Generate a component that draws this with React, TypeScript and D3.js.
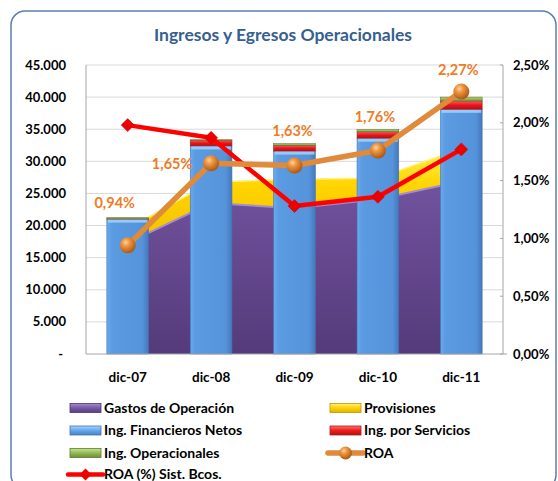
import React from 'react';
import * as d3 from 'd3';

const categories = ['dic-07', 'dic-08', 'dic-09', 'dic-10', 'dic-11'];
const gastosOperacion = [17300, 23500, 22700, 24100, 26900];
const provisiones = [2200, 3300, 4500, 3300, 5100];
const ingFinancieros = [21000, 32400, 31600, 33600, 38100];
const ingServicios = [50, 900, 900, 1000, 1300];
const ingOperacionales = [200, 60, 250, 350, 600];
const roa = [0.94, 1.65, 1.63, 1.76, 2.27];
const roaSistema = [1.98, 1.87, 1.28, 1.36, 1.77];
const leftTicks = [0, 5000, 10000, 15000, 20000, 25000, 30000, 35000, 40000, 45000];
const rightTicks = [0, 0.5, 1, 1.5, 2, 2.5];

// label nudges for the ROA data labels (dx, dy from the marker)
const roaLabelOffsets: [number, number][] = [[-13, -42], [-39, 1], [-2, -35], [-3, -34], [-3, -22]];

const W = 558;
const H = 481;
const left = 86;
const right = 503;
const top = 65;
const bottom = 354;
const font = 'Lato, "Open Sans", sans-serif';

const fmtLeft = (v: number) => (v === 0 ? '-' : d3.format(',')(v).replace(/,/g, '.'));
const fmtPct = (v: number) => v.toFixed(2).replace('.', ',') + '%';

const App: React.FC = () => {
  const x = d3.scaleBand<string>().domain(categories).range([left, right]).paddingInner(0.5).paddingOuter(0.25);
  const y = d3.scaleLinear().domain([0, 45000]).range([bottom, top]);
  const yr = d3.scaleLinear().domain([0, 2.5]).range([bottom, top]);
  const cx = (c: string) => (x(c) ?? 0) + x.bandwidth() / 2;
  const bw = x.bandwidth();

  const areaRows = categories.map((c, i) => ({ c, g: gastosOperacion[i], p: provisiones[i] }));
  const gastosArea = d3.area<typeof areaRows[0]>()
    .x(d => cx(d.c)).y0(y(0)).y1(d => y(d.g));
  const provArea = d3.area<typeof areaRows[0]>()
    .x(d => cx(d.c)).y0(d => y(d.g)).y1(d => y(d.g + d.p));

  const lineGen = d3.line<number>().x((_, i) => cx(categories[i]));
  const roaPath = lineGen.y(d => yr(d))(roa) ?? '';
  const sistPath = lineGen.y(d => yr(d))(roaSistema) ?? '';

  const stacks = categories.map((c, i) => {
    const f = ingFinancieros[i];
    const s = ingServicios[i];
    const o = ingOperacionales[i];
    return [
      { key: 'fin', y0: 0, y1: f },
      { key: 'serv', y0: f, y1: f + s },
      { key: 'oper', y0: f + s, y1: f + s + o },
    ].map(seg => ({ ...seg, c }));
  });

  const segFill: Record<string, string> = { fin: 'url(#gBlue)', serv: 'url(#gRed)', oper: 'url(#gGreen)' };
  const segStroke: Record<string, string> = { fin: '#3f74b5', serv: '#a81c1c', oper: '#5f7a30' };

  const legendItems = [
    { label: 'Gastos de Operación', kind: 'rect', fill: 'url(#gPurpleL)', stroke: '#4b3569', col: 0, row: 0 },
    { label: 'Provisiones', kind: 'rect', fill: 'url(#gYellowL)', stroke: '#b8960a', col: 1, row: 0 },
    { label: 'Ing. Financieros Netos', kind: 'rect', fill: 'url(#gBlueL)', stroke: '#3f74b5', col: 0, row: 1 },
    { label: 'Ing. por Servicios', kind: 'rect', fill: 'url(#gRedL)', stroke: '#a81c1c', col: 1, row: 1 },
    { label: 'Ing. Operacionales', kind: 'rect', fill: 'url(#gGreenL)', stroke: '#5f7a30', col: 0, row: 2 },
    { label: 'ROA', kind: 'roa', fill: '', stroke: '', col: 1, row: 2 },
    { label: 'ROA (%) Sist. Bcos.', kind: 'sist', fill: '', stroke: '', col: 0, row: 3 },
  ];
  const legendX = [70, 330];
  const legendY = [408, 430.5, 453, 474.5];

  const diamond = (px: number, py: number, r: number) =>
    `M${px},${py - r}L${px + r},${py}L${px},${py + r}L${px - r},${py}Z`;

  return (
    <svg width={W} height={H} style={{ position: 'absolute', left: 0, top: 0, background: '#fff' }} fontFamily={font}>
      <defs>
        <linearGradient id="gBlue" x1="0" x2="1" y1="0" y2="0">
          <stop offset="0" stopColor="#6aa9ec" />
          <stop offset="0.12" stopColor="#5b9be2" />
          <stop offset="0.85" stopColor="#5593da" />
          <stop offset="1" stopColor="#4678bb" />
        </linearGradient>
        <linearGradient id="gRed" x1="0" x2="0" y1="0" y2="1">
          <stop offset="0" stopColor="#ff5b5b" />
          <stop offset="0.5" stopColor="#e8161b" />
          <stop offset="1" stopColor="#b51010" />
        </linearGradient>
        <linearGradient id="gGreen" x1="0" x2="0" y1="0" y2="1">
          <stop offset="0" stopColor="#b5d77a" />
          <stop offset="1" stopColor="#76953c" />
        </linearGradient>
        <linearGradient id="gPurple" x1="0" x2="0" y1="0" y2="1">
          <stop offset="0" stopColor="#72529f" />
          <stop offset="1" stopColor="#553b7a" />
        </linearGradient>
        <linearGradient id="gYellow" x1="0" x2="0" y1="0" y2="1">
          <stop offset="0" stopColor="#fff04a" />
          <stop offset="0.4" stopColor="#ffd400" />
          <stop offset="1" stopColor="#f2c200" />
        </linearGradient>
        <linearGradient id="gPurpleL" x1="0" x2="0" y1="0" y2="1">
          <stop offset="0" stopColor="#a68ad0" />
          <stop offset="0.5" stopColor="#7459a5" />
          <stop offset="1" stopColor="#5a3f80" />
        </linearGradient>
        <linearGradient id="gYellowL" x1="0" x2="0" y1="0" y2="1">
          <stop offset="0" stopColor="#fff27a" />
          <stop offset="0.5" stopColor="#ffd200" />
          <stop offset="1" stopColor="#e0b000" />
        </linearGradient>
        <linearGradient id="gBlueL" x1="0" x2="0" y1="0" y2="1">
          <stop offset="0" stopColor="#a9d3ff" />
          <stop offset="0.5" stopColor="#66a6ea" />
          <stop offset="1" stopColor="#4a82c8" />
        </linearGradient>
        <linearGradient id="gRedL" x1="0" x2="0" y1="0" y2="1">
          <stop offset="0" stopColor="#ff7070" />
          <stop offset="0.5" stopColor="#ee1c1c" />
          <stop offset="1" stopColor="#b51010" />
        </linearGradient>
        <linearGradient id="gGreenL" x1="0" x2="0" y1="0" y2="1">
          <stop offset="0" stopColor="#c7e68e" />
          <stop offset="0.5" stopColor="#94b957" />
          <stop offset="1" stopColor="#6d8c35" />
        </linearGradient>
        <radialGradient id="gBall" cx="0.38" cy="0.32" r="0.7">
          <stop offset="0" stopColor="#ffd09a" />
          <stop offset="0.35" stopColor="#ee9540" />
          <stop offset="1" stopColor="#a8560f" />
        </radialGradient>
      </defs>

      <rect x={11} y={11} width={545} height={478} rx={14} fill="#fff" stroke="#5b7fad" strokeWidth={1.5} />

      <text x={283} y={41} textAnchor="middle" fontSize={17.5} fontWeight="bold" fill="#35608f">
        Ingresos y Egresos Operacionales
      </text>

      {/* gridlines */}
      {leftTicks.filter(t => t > 0).map(t => (
        <line key={t} x1={left} x2={right} y1={y(t)} y2={y(t)} stroke="#d9d9d9" strokeWidth={1} />
      ))}

      {/* stacked areas behind bars */}
      <path d={gastosArea(areaRows) ?? ''} fill="url(#gPurple)" />
      <path d={provArea(areaRows) ?? ''} fill="url(#gYellow)" />
      <path d={d3.line<typeof areaRows[0]>().x(d => cx(d.c)).y(d => y(d.g))(areaRows) ?? ''} fill="none" stroke="#a48cd0" strokeWidth={2} />
      <path d={d3.line<typeof areaRows[0]>().x(d => cx(d.c)).y(d => y(d.g + d.p))(areaRows) ?? ''} fill="none" stroke="#fff27a" strokeWidth={1.5} />

      {/* stacked columns */}
      {stacks.map((segs, i) => (
        <g key={categories[i]}>
          {segs.map(s => {
            const yy = y(s.y1);
            const hh = y(s.y0) - y(s.y1);
            if (hh <= 0) return null;
            return (
              <rect key={s.key} x={x(s.c)} y={yy} width={bw} height={hh}
                fill={segFill[s.key]} stroke={segStroke[s.key]} strokeWidth={0.6} />
            );
          })}
          <rect x={(x(categories[i]) ?? 0) + 1} y={y(ingFinancieros[i]) + 0.5} width={bw - 2} height={3}
            fill="#a8d6ff" opacity={0.8} />
        </g>
      ))}

      {/* axes */}
      <line x1={left} x2={left} y1={top} y2={bottom} stroke="#a6a6a6" strokeWidth={1} />
      <line x1={left} x2={507} y1={bottom} y2={bottom} stroke="#a6a6a6" strokeWidth={1} />
      <line x1={right} x2={right} y1={top} y2={bottom} stroke="#a6a6a6" strokeWidth={1} />
      {rightTicks.map(t => (
        <line key={t} x1={right - 3} x2={right} y1={yr(t)} y2={yr(t)} stroke="#a6a6a6" strokeWidth={1} />
      ))}

      {leftTicks.map(t => (
        <text key={t} x={t === 0 ? 63 : 66} y={y(t)} dy="0.35em" textAnchor="end" fontSize={13} fontWeight="bold" fill="#000">
          {fmtLeft(t)}
        </text>
      ))}
      {rightTicks.map(t => (
        <text key={t} x={513} y={yr(t)} dy="0.35em" textAnchor="start" fontSize={13} fontWeight="bold" fill="#000">
          {fmtPct(t)}
        </text>
      ))}
      {categories.map(c => (
        <text key={c} x={cx(c)} y={377} dy="0.35em" textAnchor="middle" fontSize={13.5} fontWeight="bold" fill="#000">
          {c}
        </text>
      ))}

      {/* lines */}
      <path d={sistPath} fill="none" stroke="#ff0000" strokeWidth={4.5} strokeLinejoin="round" />
      {roaSistema.map((v, i) => (
        <path key={i} d={diamond(cx(categories[i]), yr(v), 6.5)} fill="#ee0000" stroke="#c00000" strokeWidth={0.5} />
      ))}
      <path d={roaPath} fill="none" stroke="#e08a3c" strokeWidth={5.5} strokeLinejoin="round" />
      {roa.map((v, i) => (
        <circle key={i} cx={cx(categories[i])} cy={yr(v)} r={8} fill="url(#gBall)" />
      ))}
      {roa.map((v, i) => (
        <text key={i} x={cx(categories[i]) + roaLabelOffsets[i][0]} y={yr(v) + roaLabelOffsets[i][1]} dy="0.35em"
          textAnchor="middle" fontSize={14.5} fontWeight="bold" fill="#f07b25">
          {fmtPct(v)}
        </text>
      ))}

      {/* legend */}
      {legendItems.map(it => {
        const lx = legendX[it.col];
        const ly = legendY[it.row];
        return (
          <g key={it.label}>
            {it.kind === 'rect' && (
              <rect x={lx} y={ly - 4.5} width={31} height={9} fill={it.fill} stroke={it.stroke} strokeWidth={0.8} />
            )}
            {it.kind === 'roa' && (
              <g>
                <line x1={lx - 2} x2={lx + 33} y1={ly} y2={ly} stroke="#e08a3c" strokeWidth={5.5} strokeLinecap="round" />
                <circle cx={lx + 15.5} cy={ly} r={6.5} fill="url(#gBall)" />
              </g>
            )}
            {it.kind === 'sist' && (
              <g>
                <line x1={lx - 2} x2={lx + 33} y1={ly} y2={ly} stroke="#ff0000" strokeWidth={4.5} strokeLinecap="round" />
                <path d={diamond(lx + 15.5, ly, 6)} fill="#ee0000" />
              </g>
            )}
            <text x={lx + 34} y={ly} dy="0.35em" fontSize={14} fontWeight="bold" fill="#000">
              {it.label}
            </text>
          </g>
        );
      })}
    </svg>
  );
};

export default App;
